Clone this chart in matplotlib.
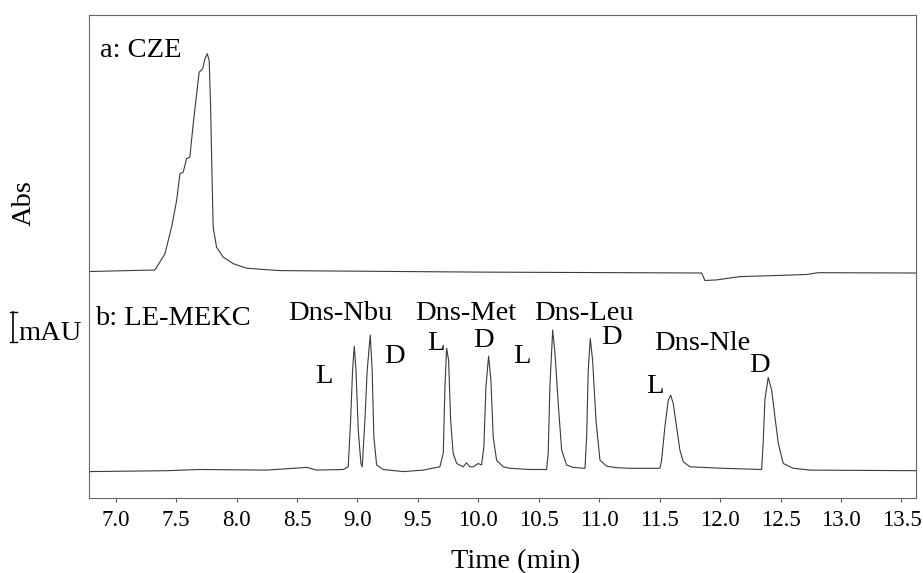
import matplotlib.pyplot as plt
import numpy as np
from matplotlib.transforms import blended_transform_factory

plt.rcParams['font.family'] = ['Liberation Serif', 'DejaVu Serif']

# trace a: CZE (time in min, signal in mAU above its own baseline)
cze_time = [6.78, 7.325, 7.408, 7.463, 7.505, 7.532, 7.559, 7.587, 7.614, 7.642,
            7.664, 7.691, 7.720, 7.739, 7.758, 7.774, 7.786, 7.797, 7.807, 7.835,
            7.890, 7.973, 8.084, 8.249, 8.359, 10.0, 11.847, 11.874, 11.971, 12.164,
            12.494, 12.715, 12.811, 13.62]
cze_signal = [0.0, 0.05, 0.59, 1.48, 2.37, 3.26, 3.31, 3.76, 3.81, 4.92,
              5.70, 6.64, 6.76, 7.09, 7.26, 7.03, 5.48, 3.26, 1.48, 0.81,
              0.48, 0.26, 0.11, 0.06, 0.03, -0.02, -0.05, -0.30, -0.28, -0.17,
              -0.13, -0.10, -0.04, -0.05]

# trace b: LE-MEKC
mekc_time = [6.78, 7.422, 7.697, 8.249, 8.580, 8.663, 8.883, 8.924, 8.944, 8.960,
             8.974, 8.988, 9.007, 9.029, 9.040, 9.062, 9.081, 9.106, 9.122, 9.136,
             9.159, 9.213, 9.379, 9.544, 9.682, 9.710, 9.724, 9.738, 9.754, 9.771,
             9.792, 9.821, 9.875, 9.903, 9.930, 9.958, 9.999, 10.027, 10.046, 10.063,
             10.085, 10.104, 10.123, 10.151, 10.206, 10.261, 10.427, 10.565, 10.578, 10.592,
             10.615, 10.634, 10.661, 10.689, 10.730, 10.785, 10.882, 10.896, 10.909, 10.926,
             10.945, 10.973, 11.006, 11.061, 11.144, 11.254, 11.337, 11.502, 11.516, 11.543,
             11.571, 11.591, 11.612, 11.640, 11.667, 11.695, 11.750, 12.026, 12.343, 12.356,
             12.370, 12.398, 12.426, 12.453, 12.481, 12.522, 12.605, 12.743, 13.62]
mekc_signal = [0.0, 0.03, 0.07, 0.05, 0.14, 0.05, 0.07, 0.16, 1.72, 3.38,
               4.18, 3.38, 1.38, 0.27, 0.16, 1.72, 3.38, 4.55, 3.38, 1.16,
               0.22, 0.07, 0.0, 0.05, 0.16, 0.61, 2.83, 4.11, 3.72, 1.72,
               0.61, 0.27, 0.16, 0.29, 0.16, 0.16, 0.27, 0.22, 0.83, 2.83,
               3.85, 3.05, 1.16, 0.38, 0.16, 0.11, 0.07, 0.07, 0.61, 2.83,
               4.72, 3.94, 2.27, 0.72, 0.22, 0.14, 0.11, 1.16, 3.38, 4.44,
               3.72, 1.72, 0.38, 0.18, 0.13, 0.11, 0.11, 0.11, 0.38, 1.49,
               2.38, 2.55, 2.27, 1.49, 0.72, 0.33, 0.16, 0.11, 0.07, 0.94,
               2.38, 3.14, 2.72, 1.83, 0.94, 0.27, 0.11, 0.05, 0.03]

# peak labels
peak_labels = ['Dns-Nbu', 'L', 'D', 'L', 'Dns-Met', 'D', 'L', 'Dns-Leu', 'D',
               'Dns-Nle', 'L', 'D']
label_time = [8.855, 8.722, 9.310, 9.649, 9.898, 10.046, 10.360, 10.873, 11.105,
              11.849, 11.460, 12.329]
label_y = [5.93, 3.83, 4.50, 4.93, 5.93, 5.03, 4.50, 5.93, 5.12, 4.93, 3.50, 4.20]

tick_vals = np.arange(7.0, 13.51, 0.5)

cze_offset = 7.55
mekc_offset = 0.88
line_col = '#3a3a3a'
fs = 20.5

fig = plt.figure(figsize=(9.23, 5.73), dpi=100)
ax = fig.add_axes([89 / 923, 75 / 573, 827 / 923, 483 / 573])

ax.plot(cze_time, np.array(cze_signal) + cze_offset, color=line_col, lw=0.8)
ax.plot(mekc_time, np.array(mekc_signal) + mekc_offset, color=line_col, lw=0.8)

ax.set_xlim(6.78, 13.62)
ax.set_ylim(0, 16.1)
ax.set_xticks(tick_vals)
ax.set_xticklabels([f'{v:.1f}' for v in tick_vals], fontsize=16.5)
ax.set_yticks([])
ax.tick_params(axis='x', direction='out', length=3, width=0.8, pad=6, color='#555555')
for s in ax.spines.values():
    s.set_linewidth(0.8)
    s.set_color('#666666')

ax.text(0.0133, 14.71, 'a: CZE', transform=blended_transform_factory(ax.transAxes, ax.transData),
        fontsize=fs, ha='left', va='baseline')
ax.text(0.0073, 5.77, 'b: LE-MEKC', transform=blended_transform_factory(ax.transAxes, ax.transData),
        fontsize=fs, ha='left', va='baseline')
for lab, t, y in zip(peak_labels, label_time, label_y):
    ax.text(t, y, lab, fontsize=fs, ha='center', va='baseline')

# 1 mAU scale bar
bar_tr = ax.get_yaxis_transform()
ax.plot([-0.0915, -0.0915], [5.21, 6.21], color='black', lw=1.2, transform=bar_tr, clip_on=False)
ax.plot([-0.0955, -0.0875], [5.21, 5.21], color='black', lw=1.0, transform=bar_tr, clip_on=False)
ax.plot([-0.0955, -0.0875], [6.21, 6.21], color='black', lw=1.0, transform=bar_tr, clip_on=False)
fig.text(18 / 923, 1 - 340 / 573, 'mAU', fontsize=fs, ha='left', va='baseline')

fig.text(24 / 923, 1 - 203 / 573, 'Abs', fontsize=fs, rotation=90, ha='center', va='center')
fig.text(516 / 923, 1 - 568 / 573, 'Time (min)', fontsize=fs, ha='center', va='baseline')

plt.savefig('out.png', dpi=100)
plt.close()
